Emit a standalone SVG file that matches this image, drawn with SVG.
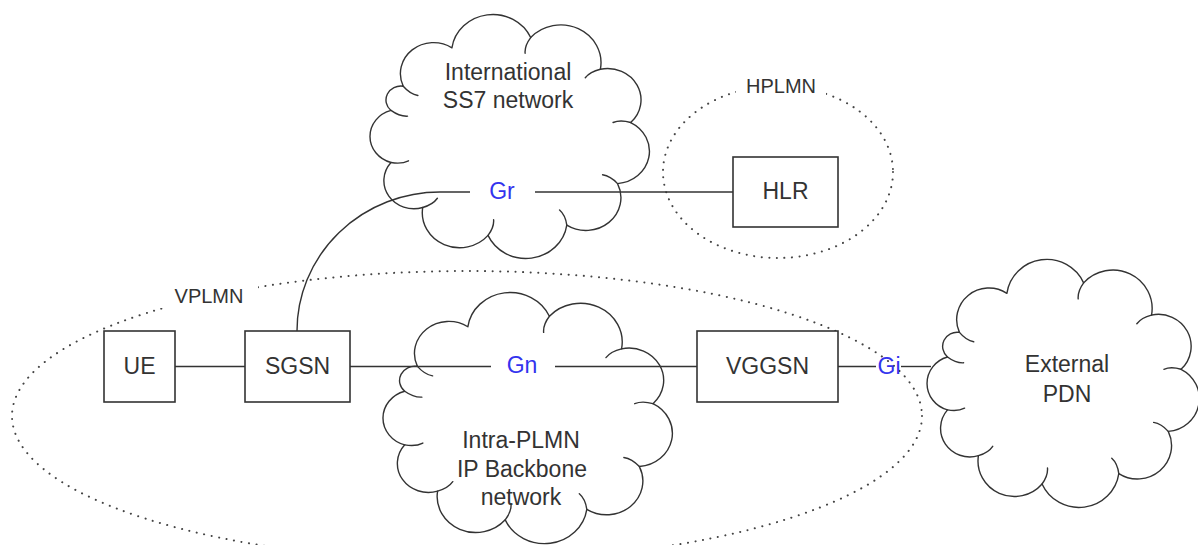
<svg xmlns="http://www.w3.org/2000/svg" xmlns:xlink="http://www.w3.org/1999/xlink" width="1198" height="545" viewBox="0 0 1198 545">
  <style>
    .txt { font-family: "Liberation Sans", Arial, sans-serif; font-size: 23px; fill: #333333; text-anchor: middle; }
    .lbl { font-family: "Liberation Sans", Arial, sans-serif; font-size: 20px; fill: #333333; text-anchor: middle; }
    .iface { font-family: "Liberation Sans", Arial, sans-serif; font-size: 23px; fill: #3333ee; text-anchor: middle; }
    .box { fill: #ffffff; stroke: #333333; stroke-width: 1.6; }
    .wire { fill: none; stroke: #333333; stroke-width: 1.4; }
    .cloud { fill: #ffffff; stroke: #333333; stroke-width: 1.4; stroke-linejoin: round; }
    .stub { fill: none; stroke: #333333; stroke-width: 1.4; stroke-linecap: round; }
    .domain { fill: none; stroke: #444444; stroke-width: 2; stroke-dasharray: 0.1 7.5; stroke-linecap: round; }
  </style>
  <defs>
    <!-- generic cloud outline: eleven bumps plus inward curls at the joins -->
    <g id="cloudShape">
      <path class="cloud" vector-effect="non-scaling-stroke" d="M43,73.5 A30.3,30.3 0 0 1 87.5,36 A37.8,37.8 0 0 1 159.5,26 A36.8,36.8 0 0 1 223.2,56.9 A30.6,30.6 0 0 1 250.9,108.9 A31.6,31.6 0 0 1 238.9,168.5 A32,32 0 0 1 192.5,209 A37.8,37.8 0 0 1 120.5,219 A34.1,34.1 0 0 1 60.8,191.8 A27.4,27.4 0 0 1 31.8,147.9 A26.4,26.4 0 0 1 31.8,97.1 A13.6,13.6 0 0 1 43,73.5 Z"/>
      <path class="stub" vector-effect="non-scaling-stroke" d="M43,73.5 q6.2,7.6 13.4,9 M159.5,26 q-5.7,8 -5.1,15.3 M223.2,56.9 q-9.5,2.4 -13.8,8.3 M250.9,108.9 q-9.4,-2.9 -16.1,0 M238.9,168.5 q-6.5,-7.4 -13.7,-8.6 M192.5,209 q-1.3,-9.8 -6.6,-14.7 M120.5,219 q5.7,-8 5.1,-15.3 M60.8,191.8 q9.4,-2.9 13.4,-9 M31.8,147.9 q9.7,1.8 16,-1.7 M31.8,97.1 q7.8,6 15.1,5.6"/>
    </g>
  </defs>

  <!-- administrative domains -->
  <g id="domains">
    <ellipse class="domain" cx="467" cy="416" rx="455" ry="145"/>
    <ellipse class="domain" cx="778" cy="172" rx="115" ry="86"/>
    <rect x="158" y="282" width="100" height="26" fill="#ffffff"/>
    <rect x="736" y="74" width="90" height="26" fill="#ffffff"/>
    <text class="lbl" x="209" y="303">VPLMN</text>
    <text class="lbl" x="781" y="93">HPLMN</text>
  </g>

  <!-- networks -->
  <g id="ss7-cloud">
    <use xlink:href="#cloudShape" transform="translate(356.2,10.9) scale(1.094,1.025)"/>
  </g>
  <g id="backbone-cloud">
    <use xlink:href="#cloudShape" transform="translate(368.7,288.8) scale(1.133,1.055)"/>
  </g>
  <g id="pdn-cloud">
    <use xlink:href="#cloudShape" transform="translate(913.6,255.8) scale(1.066,1.042)"/>
  </g>

  <!-- interfaces -->
  <g id="connectors">
    <line class="wire" x1="175" y1="366.5" x2="245" y2="366.5"/>
    <line class="wire" x1="350" y1="366.5" x2="491" y2="366.5"/>
    <line class="wire" x1="555" y1="366.5" x2="697" y2="366.5"/>
    <line class="wire" x1="838" y1="366.5" x2="876" y2="366.5"/>
    <line class="wire" x1="901" y1="366.5" x2="931" y2="366.5"/>
    <path class="wire" d="M297,331 A143,139 0 0 1 440,192 L470,192"/>
    <line class="wire" x1="535" y1="192" x2="733" y2="192"/>
  </g>

  <g id="node-ue">
    <rect class="box" x="104" y="331" width="71" height="71"/>
    <text class="txt" x="139.5" y="374">UE</text>
  </g>
  <g id="node-sgsn">
    <rect class="box" x="245" y="331" width="105" height="71"/>
    <text class="txt" x="297.5" y="374">SGSN</text>
  </g>
  <g id="node-vggsn">
    <rect class="box" x="697" y="331" width="141" height="71"/>
    <text class="txt" x="767.5" y="374">VGGSN</text>
  </g>
  <g id="node-hlr">
    <rect class="box" x="733" y="157" width="105" height="70"/>
    <text class="txt" x="785.5" y="199">HLR</text>
  </g>

  <g id="labels">
    <text class="txt" x="508" y="80">International</text>
    <text class="txt" x="508" y="108">SS7 network</text>
    <text class="txt" x="521" y="448">Intra-PLMN</text>
    <text class="txt" x="522" y="477">IP Backbone</text>
    <text class="txt" x="521" y="505">network</text>
    <text class="txt" x="1067" y="372">External</text>
    <text class="txt" x="1067" y="402">PDN</text>
    <text class="iface" x="502" y="199">Gr</text>
    <text class="iface" x="522" y="373">Gn</text>
    <text class="iface" x="889" y="374">Gi</text>
  </g>
</svg>
